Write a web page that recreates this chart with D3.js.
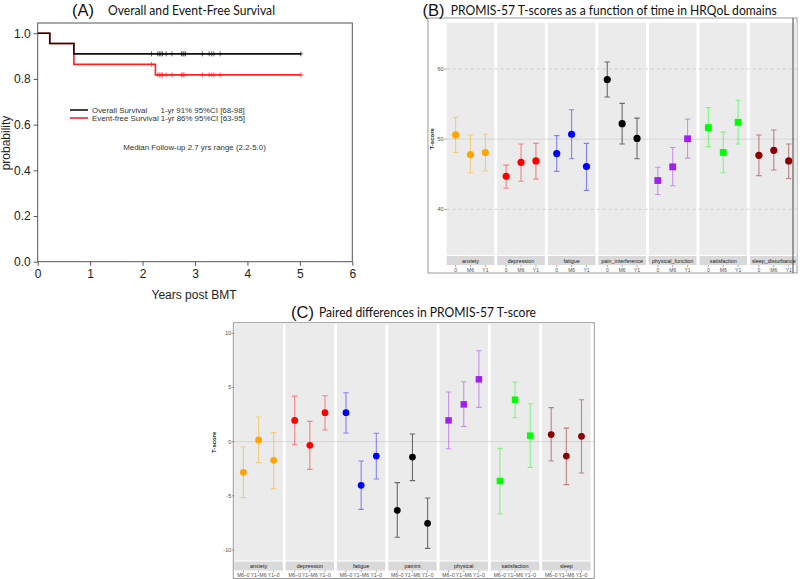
<!DOCTYPE html>
<html><head><meta charset="utf-8">
<script src="https://d3js.org/d3.v7.min.js"></script>
<style>body{margin:0;background:#fff}svg{display:block}</style>
</head><body>
<script>
// ---------- Panel A data ----------
const osTimes = [0, 0.23, 0.69, 5.02];
const osSurv  = [1.0, 0.955, 0.91, 0.91];
const efsTimes = [0, 0.23, 0.69, 2.245, 5.02];
const efsSurv  = [1.0, 0.955, 0.864, 0.818, 0.818];
const osCensor  = [2.17, 2.29, 2.32, 2.35, 2.38, 2.45, 2.56, 2.74, 2.77, 2.79, 2.82, 3.14, 3.27, 3.32, 3.36, 3.48, 5.02];
const efsCensor = [2.17, 2.29, 2.32, 2.35, 2.38, 2.45, 2.56, 2.74, 2.77, 2.79, 3.14, 3.27, 3.32, 3.36, 3.48, 5.02];
const aXTicks = [0, 1, 2, 3, 4, 5, 6];
const aYTicks = [0.0, 0.2, 0.4, 0.6, 0.8, 1.0];

// ---------- Panel B data ----------
const bDomains = ["anxiety","depression","fatigue","pain_interference","physical_function","satisfaction","sleep_disturbance"];
const bTimes = ["0","M6","Y1"];
const bMean = [[50.6,47.8,48.1],[44.7,46.7,46.9],[47.95,50.7,46.1],[58.5,52.2,50.1],[44.1,46.05,50.05],[51.65,48.1,52.4],[47.7,48.4,46.9]];
const bLow  = [[48.1,45.2,45.5],[43.0,44.0,44.3],[45.4,47.2,42.7],[56.0,49.3,47.2],[42.1,43.35,47.3],[48.9,45.2,49.3],[44.8,45.6,44.4]];
const bHigh = [[53.1,50.6,50.7],[46.3,49.3,49.4],[50.5,54.2,49.4],[61.0,55.1,53.0],[46.0,48.8,52.85],[54.5,51.0,55.55],[50.6,51.3,49.3]];
const bYTicks = [40, 50, 60];

// ---------- Panel C data ----------
const cDomains = ["anxiety","depression","fatigue","painint","physical","satisfaction","sleep"];
const cDiffs = ["M6\u20130","Y1\u2013M6","Y1\u20130"];
const cMean = [[-2.83,0.15,-1.72],[1.96,-0.34,2.67],[2.67,-4.03,-1.33],[-6.34,-1.42,-7.54],[1.96,3.44,5.75],[-3.63,3.87,0.55],[0.65,-1.33,0.49]];
const cLow  = [[-5.17,-1.94,-4.34],[-0.28,-2.56,1.07],[0.8,-6.25,-3.45],[-8.83,-3.6,-9.85],[-0.65,1.41,3.16],[-6.68,2.21,-2.37],[-1.79,-3.97,-2.9]];
const cHigh = [[-0.5,2.27,0.83],[4.2,1.87,4.24],[4.52,-1.79,0.77],[-3.78,0.7,-5.2],[4.58,5.53,8.39],[-0.62,5.5,3.5],[3.14,1.25,3.87]];
const cYTicks = [-10, -5, 0, 5, 10];

const domainColors = ["#FFA500","#FF0000","#0000FF","#000000","#A020F0","#00FF00","#8B0000"];
const domainShapes = ["circle","circle","circle","circle","square","square","circle"];

const svg = d3.select("body").append("svg").attr("width",800).attr("height",579);
const SANS = "Liberation Sans, Arial, sans-serif";

// ================= Panel A =================
(function(){
  const x = d3.scaleLinear().domain([0,6]).range([37.7,352.3]);
  const y = d3.scaleLinear().domain([0,1.045]).range([261.7,23]);
  const g = svg.append("g").attr("font-family",SANS);
  g.append("rect").attr("x",x(0)).attr("y",y(1.045)).attr("width",x(6)-x(0)).attr("height",y(0)-y(1.045))
    .attr("fill","none").attr("stroke","#555").attr("stroke-width",1);
  const xa = g.append("g").attr("transform",`translate(0,${y(0)})`)
    .call(d3.axisBottom(x).tickValues(aXTicks).tickFormat(d3.format("d")).tickSize(4).tickPadding(4));
  xa.select(".domain").remove();
  xa.selectAll("text").attr("font-size",12).attr("fill","#222").attr("font-family",SANS);
  xa.selectAll("line").attr("stroke","#555");
  const ya = g.append("g").attr("transform",`translate(${x(0)},0)`)
    .call(d3.axisLeft(y).tickValues(aYTicks).tickFormat(d3.format(".1f")).tickSize(4).tickPadding(3));
  ya.select(".domain").remove();
  ya.selectAll("text").attr("font-size",12).attr("fill","#222").attr("font-family",SANS);
  ya.selectAll("line").attr("stroke","#555");
  g.append("text").attr("x",194).attr("y",299).attr("text-anchor","middle").attr("font-size",12).attr("fill","#222").text("Years post BMT");
  g.append("text").attr("transform","translate(10,143) rotate(-90)").attr("text-anchor","middle").attr("font-size",12).attr("fill","#222").text("probability");

  const stepLine = d3.line().x(d=>x(d[0])).y(d=>y(d[1])).curve(d3.curveStepAfter);
  const survAt = (times, surv, t) => { let v = surv[0]; times.forEach((tt,i)=>{ if (t>=tt) v = surv[i]; }); return v; };
  const series = [
    {times: efsTimes, surv: efsSurv, cens: efsCensor, color: "#FF2020"},
    {times: osTimes, surv: osSurv, cens: osCensor, color: "#111"}
  ];
  series.forEach(s=>{
    g.append("path").attr("d", stepLine(s.times.map((t,i)=>[t,s.surv[i]])))
      .attr("fill","none").attr("stroke",s.color).attr("stroke-width",1.6);
    s.cens.forEach(t=>{
      const cx = x(t), cy = y(survAt(s.times,s.surv,t));
      g.append("path").attr("d",`M${cx-2.2},${cy}H${cx+2.2}M${cx},${cy-2.5}V${cy+2.5}`)
        .attr("stroke",s.color).attr("stroke-width",0.7);
    });
  });
  // legend
  g.append("line").attr("x1",70).attr("x2",88).attr("y1",110).attr("y2",110).attr("stroke","#111").attr("stroke-width",1.6);
  g.append("line").attr("x1",70).attr("x2",88).attr("y1",118).attr("y2",118).attr("stroke","#FF2020").attr("stroke-width",1.6);
  g.append("text").attr("x",92).attr("y",113).attr("font-size",7.9).attr("fill","#333").text("Overall Survival");
  g.append("text").attr("x",160.5).attr("y",113).attr("font-size",7.9).attr("fill","#333").text("1-yr 91% 95%CI [68-98]");
  g.append("text").attr("x",92).attr("y",121).attr("font-size",7.9).attr("fill","#333").text("Event-free Survival 1-yr 86% 95%CI [63-95]");
  g.append("text").attr("x",194.5).attr("y",150).attr("text-anchor","middle").attr("font-size",7.9).attr("fill","#333").text("Median Follow-up 2.7 yrs range (2.2-5.0)");
  // title
  g.append("text").attr("x",72).attr("y",15.6).attr("font-family",SANS).attr("font-size",16.5).attr("fill","#111").text("(A)");
  g.append("text").attr("x",108).attr("y",15).attr("font-family","Lato, sans-serif").attr("font-size",13).attr("fill","#111")
    .attr("textLength",167).attr("lengthAdjust","spacingAndGlyphs").text("Overall and Event-Free Survival");
})();

// ============== facet helper ==============
function facetPanel(opt){
  const g = svg.append("g").attr("font-family",SANS);
  g.append("rect").attr("x",opt.frame[0]).attr("y",opt.frame[1]).attr("width",opt.frame[2]-opt.frame[0]).attr("height",opt.frame[3]-opt.frame[1])
    .attr("fill","#fff").attr("stroke","#999").attr("stroke-width",1);
  const fx = d3.scaleBand().domain(opt.domains).range(opt.xRange).paddingInner(opt.pad).paddingOuter(0);
  const bw = fx.bandwidth();
  const ix = d3.scalePoint().domain(opt.times).range([0,bw]).padding(0.6);
  const y = d3.scaleLinear().domain(opt.yDomain).range(opt.yRange);
  const clip = "clip"+opt.id;
  g.append("clipPath").attr("id",clip).append("rect").attr("x",opt.frame[0]).attr("y",opt.frame[1]).attr("width",opt.clipRight-opt.frame[0]).attr("height",opt.frame[3]-opt.frame[1]);
  const inner = g.append("g").attr("clip-path",`url(#${clip})`);
  opt.domains.forEach((d,i)=>{
    const px = fx(d);
    inner.append("rect").attr("x",px).attr("y",opt.panelTop).attr("width",bw).attr("height",opt.panelBottom-opt.panelTop).attr("fill","#EBEBEB");
    inner.append("rect").attr("x",px).attr("y",opt.panelBottom+1).attr("width",bw).attr("height",9).attr("fill","#D9D9D9");
    inner.append("text").attr("x",px+bw/2).attr("y",opt.panelBottom+7.6).attr("text-anchor","middle").attr("font-size",5.4).attr("fill","#1A1A1A").text(d);
    opt.times.forEach(t=>{
      inner.append("line").attr("x1",px+ix(t)).attr("x2",px+ix(t)).attr("y1",opt.panelBottom+10).attr("y2",opt.panelBottom+12).attr("stroke","#555").attr("stroke-width",0.5);
      inner.append("text").attr("x",px+ix(t)).attr("y",opt.panelBottom+16.8).attr("text-anchor","middle").attr("font-size",5).attr("fill","#4D4D4D").text(t);
    });
  });
  const xl = opt.xRange[0], xr = opt.clipRight;
  opt.refLines.forEach(r=>{
    inner.append("line").attr("x1",xl).attr("x2",xr).attr("y1",y(r.v)).attr("y2",y(r.v))
      .attr("stroke",r.dash?"#C8C8C8":"#CFCFCF").attr("stroke-width",0.8).attr("stroke-dasharray",r.dash?"3,3":null);
  });
  opt.yTicks.forEach(v=>{
    g.append("line").attr("x1",xl-2.5).attr("x2",xl).attr("y1",y(v)).attr("y2",y(v)).attr("stroke","#555").attr("stroke-width",0.5);
    g.append("text").attr("x",xl-3).attr("y",y(v)+2).attr("text-anchor","end").attr("font-size",5.5).attr("fill","#4D4D4D").text(v);
  });
  g.append("text").attr("transform",`translate(${opt.yLabX},${(opt.panelTop+opt.panelBottom)/2}) rotate(-90)`).attr("text-anchor","middle")
    .attr("font-size",6).attr("font-weight","bold").attr("fill","#222").text("T-score");
  opt.domains.forEach((d,i)=>{
    const px = fx(d);
    opt.times.forEach((t,j)=>{
      const cx = px+ix(t);
      const col = domainColors[i];
      const lo = y(opt.low[i][j]), hi = y(opt.high[i][j]), cy = y(opt.mean[i][j]);
      inner.append("path").attr("d",`M${cx-2.7},${hi}H${cx+2.7}M${cx},${hi}V${lo}M${cx-2.7},${lo}H${cx+2.7}`)
        .attr("stroke",col).attr("stroke-opacity",i===3?0.55:0.45).attr("stroke-width",1.1).attr("fill","none");
      if (domainShapes[i]==="circle"){
        inner.append("circle").attr("cx",cx).attr("cy",cy).attr("r",opt.r).attr("fill",col);
      } else {
        const s = opt.r*1.9;
        inner.append("rect").attr("x",cx-s/2).attr("y",cy-s/2).attr("width",s).attr("height",s).attr("fill",col);
      }
    });
  });
  if (opt.after) opt.after(g);
}

// ================= Panel B =================
facetPanel({
  id:"B", domains:bDomains, times:bTimes, mean:bMean, low:bLow, high:bHigh,
  frame:[428,18,797,273], clipRight:797, xRange:[446.7,797.6], pad:0.058,
  yDomain:[40,60], yRange:[209.3,69], panelTop:22.7, panelBottom:255, yTicks:bYTicks,
  refLines:[{v:40,dash:true},{v:50,dash:false},{v:60,dash:true}], yLabX:434, r:3.6,
  after: g=>{ g.append("line").attr("x1",793).attr("x2",793).attr("y1",18).attr("y2",273).attr("stroke","#444").attr("stroke-width",1); }
});
svg.append("text").attr("x",422.5).attr("y",15.6).attr("font-family",SANS).attr("font-size",16.5).attr("fill","#111").text("(B)");
svg.append("text").attr("x",450.7).attr("y",15).attr("font-family","Lato, sans-serif").attr("font-size",13).attr("fill","#111")
  .attr("textLength",326).attr("lengthAdjust","spacingAndGlyphs").text("PROMIS-57 T-scores as a function of time in HRQoL domains");

// ================= Panel C =================
facetPanel({
  id:"C", domains:cDomains, times:cDiffs, mean:cMean, low:cLow, high:cHigh,
  frame:[233.3,322.7,594.3,578.5], clipRight:594.3, xRange:[234.3,590.6], pad:0.0546,
  yDomain:[-10,10], yRange:[550,333.3], panelTop:324, panelBottom:560.5, yTicks:cYTicks,
  refLines:[{v:0,dash:false}], yLabX:216, r:3.4
});
svg.append("text").attr("x",291).attr("y",317.5).attr("font-family",SANS).attr("font-size",16.5).attr("fill","#111").text("(C)");
svg.append("text").attr("x",319).attr("y",316.7).attr("font-family","Lato, sans-serif").attr("font-size",13).attr("fill","#111")
  .attr("textLength",217).attr("lengthAdjust","spacingAndGlyphs").text("Paired differences in PROMIS-57 T-score");
</script>
</body></html>
